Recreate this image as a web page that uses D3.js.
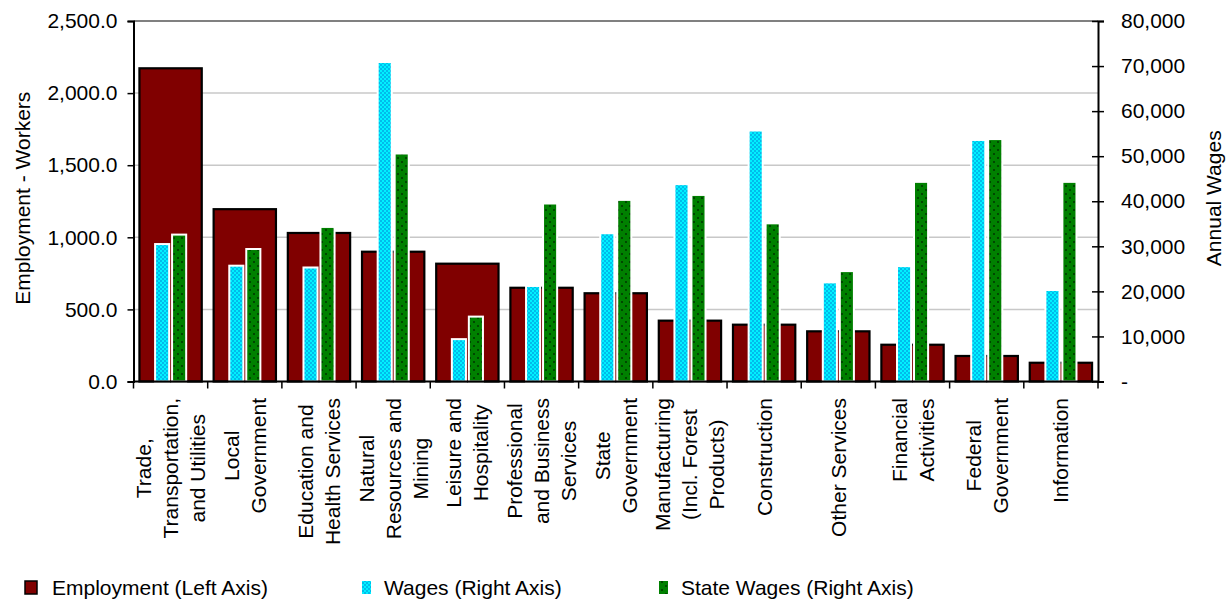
<!DOCTYPE html>
<html>
<head>
<meta charset="utf-8">
<script src="https://cdn.jsdelivr.net/npm/d3@7"></script>
<style>
  html, body { margin: 0; padding: 0; background: #fff; }
  svg { display: block; font-family: "Liberation Sans", Arial, Helvetica, sans-serif; }
</style>
</head>
<body>
<svg id="chart" width="1227" height="599"></svg>
<script>
const categories = [
  "Trade, Transportation, and Utilities", "Local Government", "Education and Health Services",
  "Natural Resources and Mining", "Leisure and Hospitality", "Professional and Business Services",
  "State Government", "Manufacturing (Incl. Forest Products)", "Construction", "Other Services",
  "Financial Activities", "Federal Government", "Information"
];
const categoryLines = [
  ["Trade,", "Transportation,", "and Utilities"],
  ["Local", "Government"],
  ["Education and", "Health Services"],
  ["Natural", "Resources and", "Mining"],
  ["Leisure and", "Hospitality"],
  ["Professional", "and Business", "Services"],
  ["State", "Government"],
  ["Manufacturing", "(Incl. Forest", "Products)"],
  ["Construction"],
  ["Other Services"],
  ["Financial", "Activities"],
  ["Federal", "Government"],
  ["Information"]
];
const employment = [2172, 1195, 1030, 900, 817, 650, 612, 422, 394, 348, 255, 177, 130];
const wages      = [30500, 25700, 25300, 70900, 9400, 21200, 32900, 43800, 55700, 22000, 25600, 53600, 20300];
const stateWages = [32600, 29400, 34300, 50600, 14400, 39500, 40300, 41400, 35100, 24500, 44300, 53800, 44300];
const leftTicks  = [0, 500, 1000, 1500, 2000, 2500];
const rightTicks = [0, 10000, 20000, 30000, 40000, 50000, 60000, 70000, 80000];
const seriesNames = ["Employment (Left Axis)", "Wages (Right Axis)", "State Wages (Right Axis)"];

const svg = d3.select("#chart");
const L = 133.5, R = 1098, T = 21, B = 381.5;
const FS = 21;

const x = d3.scaleBand().domain(categories).range([L, R]).paddingInner(0).paddingOuter(0);
const yL = d3.scaleLinear().domain([0, 2500]).range([B, T]);
const yR = d3.scaleLinear().domain([0, 80000]).range([B, T]);
const bw = x.bandwidth();

// patterns
const defs = svg.append("defs");
const pc = defs.append("pattern").attr("id", "cyanDots").attr("patternUnits", "userSpaceOnUse")
  .attr("width", 4).attr("height", 4);
pc.append("rect").attr("width", 4).attr("height", 4).attr("fill", "#00F0FF");
pc.append("rect").attr("x", 0.5).attr("y", 0.5).attr("width", 1).attr("height", 1).attr("fill", "#0020B0");
pc.append("rect").attr("x", 2.5).attr("y", 2.5).attr("width", 1).attr("height", 1).attr("fill", "#0020B0");
const pg = defs.append("pattern").attr("id", "greenDots").attr("patternUnits", "userSpaceOnUse")
  .attr("width", 8).attr("height", 8);
pg.append("rect").attr("width", 8).attr("height", 8).attr("fill", "#008000");
pg.append("circle").attr("cx", 2).attr("cy", 2).attr("r", 1).attr("fill", "#003300");
pg.append("circle").attr("cx", 6).attr("cy", 6).attr("r", 1).attr("fill", "#003300");

// gridlines
svg.append("g").selectAll("line").data(leftTicks.filter(d => d > 0 && d < 2500)).join("line")
  .attr("x1", L).attr("x2", R).attr("y1", d => yL(d)).attr("y2", d => yL(d))
  .attr("stroke", "#c8c8c8").attr("stroke-width", 1.5);
// plot top border
svg.append("line").attr("x1", L).attr("x2", R).attr("y1", T).attr("y2", T)
  .attr("stroke", "#808080").attr("stroke-width", 2);

// employment bars
svg.append("g").selectAll("rect").data(categories).join("rect")
  .attr("x", d => x(d) + bw * 0.08)
  .attr("width", bw * 0.84)
  .attr("y", (d, i) => yL(employment[i]))
  .attr("height", (d, i) => B - yL(employment[i]))
  .attr("fill", "#800000").attr("stroke", "#000").attr("stroke-width", 2.2);

// wage bars
const wbw = bw * 0.19;
svg.append("g").selectAll("rect").data(categories).join("rect")
  .attr("x", d => x(d) + bw / 2 - bw * 0.209)
  .attr("width", wbw)
  .attr("y", (d, i) => yR(wages[i]))
  .attr("height", (d, i) => B - yR(wages[i]))
  .attr("fill", "url(#cyanDots)").attr("stroke", "#fff").attr("stroke-width", 2);
svg.append("g").selectAll("rect").data(categories).join("rect")
  .attr("x", d => x(d) + bw / 2 + bw * 0.02)
  .attr("width", wbw)
  .attr("y", (d, i) => yR(stateWages[i]))
  .attr("height", (d, i) => B - yR(stateWages[i]))
  .attr("fill", "url(#greenDots)").attr("stroke", "#fff").attr("stroke-width", 2);

// left axis
const gl = svg.append("g").attr("transform", `translate(${L},0)`)
  .call(d3.axisLeft(yL).tickValues(leftTicks).tickFormat(d3.format(",.1f")).tickSize(6).tickPadding(10));
gl.select(".domain").attr("stroke", "#000").attr("stroke-width", 2);
gl.selectAll(".tick line").attr("stroke", "#000").attr("stroke-width", 1.5);
gl.selectAll("text").attr("font-size", FS).attr("fill", "#000").attr("font-family", null);

// right axis
const gr = svg.append("g").attr("transform", `translate(${R},0)`)
  .call(d3.axisRight(yR).tickValues(rightTicks).tickFormat(d => d === 0 ? "-" : d3.format(",")(d)).tickSize(6).tickPadding(17));
gr.select(".domain").attr("stroke", "#000").attr("stroke-width", 2);
gr.selectAll(".tick line").attr("x1", -6).attr("stroke", "#000").attr("stroke-width", 1.5);
gr.selectAll("text").attr("font-size", FS).attr("fill", "#000").attr("font-family", null);

// bottom axis line and ticks at category boundaries
svg.append("line").attr("x1", L).attr("x2", R).attr("y1", B).attr("y2", B)
  .attr("stroke", "#000").attr("stroke-width", 2);
svg.append("g").selectAll("line").data(categories.concat(["__end"])).join("line")
  .attr("x1", (d, i) => i < categories.length ? x(d) : R)
  .attr("x2", (d, i) => i < categories.length ? x(d) : R)
  .attr("y1", B).attr("y2", B + 7).attr("stroke", "#000").attr("stroke-width", 1.5);

// category labels (rotated)
const lineGap = 27;
const labG = svg.append("g");
categoryLines.forEach((lines, i) => {
  const cx = x(categories[i]) + bw / 2;
  const g = labG.append("g");
  const texts = lines.map((ln, j) => {
    const lx = cx + (j - (lines.length - 1) / 2) * lineGap;
    return g.append("text").attr("font-size", FS).attr("fill", "#000")
      .attr("text-anchor", "middle").attr("dominant-baseline", "central")
      .attr("data-lx", lx).text(ln);
  });
  const maxLen = d3.max(texts, t => t.node().getComputedTextLength());
  const cy = 398 + maxLen / 2;
  texts.forEach(t => {
    const lx = +t.attr("data-lx");
    t.attr("transform", `translate(${lx},${cy}) rotate(-90)`).attr("data-lx", null);
  });
});

// axis titles
svg.append("text").attr("transform", `translate(22,${(T + B) / 2 - 3}) rotate(-90)`)
  .attr("text-anchor", "middle").attr("dominant-baseline", "central")
  .attr("font-size", FS).attr("fill", "#000").text("Employment - Workers");
svg.append("text").attr("transform", `translate(1213,${(T + B) / 2 - 3}) rotate(-90)`)
  .attr("text-anchor", "middle").attr("dominant-baseline", "central")
  .attr("font-size", FS).attr("fill", "#000").text("Annual Wages");

// legend
const legendX = [25, 362, 659];
const legendFill = ["#800000", "url(#cyanDots)", "url(#greenDots)"];
const lg = svg.append("g");
seriesNames.forEach((name, i) => {
  lg.append("rect").attr("x", legendX[i]).attr("y", 581).attr("width", i === 0 ? 12 : 9).attr("height", 13)
    .attr("fill", legendFill[i]).attr("stroke", i === 0 ? "#000" : "none").attr("stroke-width", 1.5);
  lg.append("text").attr("x", legendX[i] + (i === 0 ? 27 : 22)).attr("y", 595)
    .attr("font-size", FS).attr("fill", "#000").text(name);
});
</script>
</body>
</html>
